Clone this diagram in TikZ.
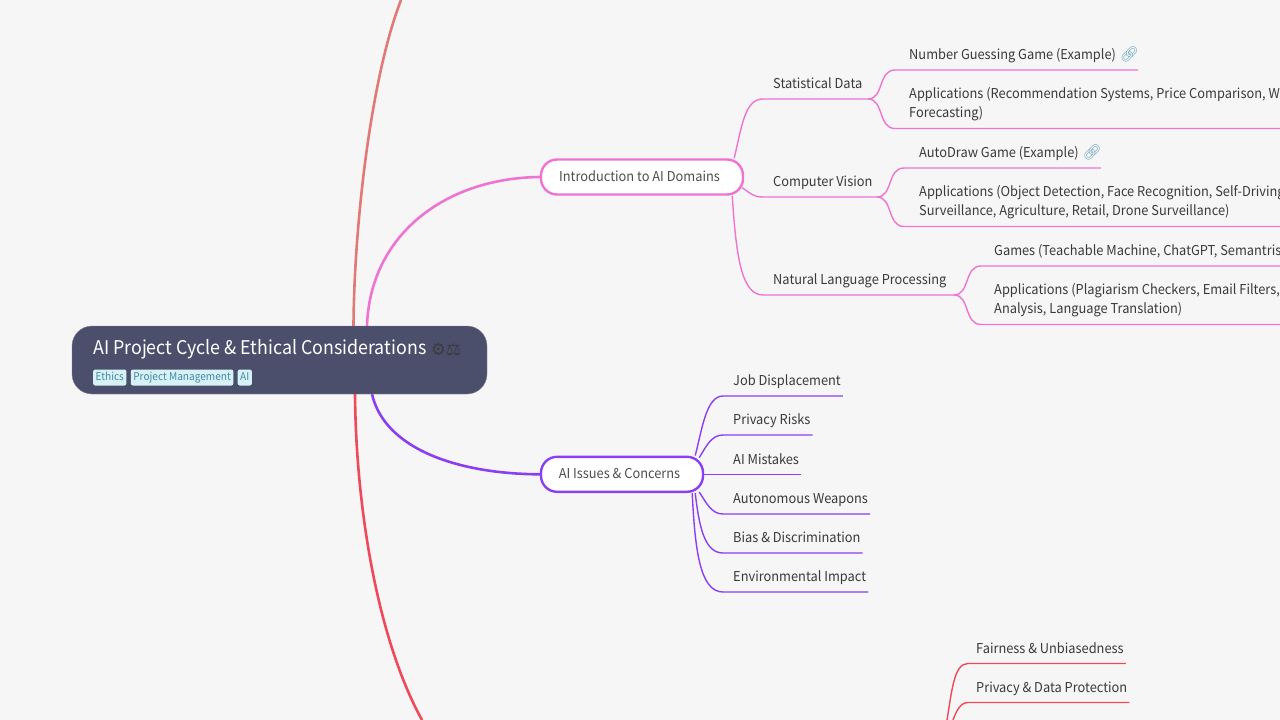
\documentclass[tikz,border=0pt]{standalone}
\usepackage{fontspec}
\setmainfont[FakeStretch=0.943]{Noto Sans CJK SC}
\newfontfamily\iconfont{DejaVu Sans}
\newfontfamily\emojifont{Noto Emoji}
\usetikzlibrary{positioning}
\definecolor{paper}{HTML}{F6F6F6}
\definecolor{rootfill}{HTML}{4C4F6B}
\definecolor{tagfill}{HTML}{D6F1F8}
\definecolor{tagtext}{HTML}{47899E}
\definecolor{inktext}{HTML}{3A3A3A}
\definecolor{pinkline}{HTML}{EE74D3}
\definecolor{violetline}{HTML}{8A3FF0}
\definecolor{redline}{HTML}{EF4A5B}
\definecolor{salmonline}{HTML}{E07A78}
\definecolor{linkblue}{HTML}{6FA8C4}
\tikzstyle{every node}=[font=\fontsize{13.6}{18.5}\selectfont, text=inktext]
\tikzstyle{rootbox}=[draw=rootfill!70!white, fill=rootfill, rounded corners=20pt, minimum width=415pt, minimum height=68pt, inner sep=0pt]
\tikzstyle{tag}=[fill=tagfill, rounded corners=2pt, text=tagtext, font=\fontsize{10.7}{13}\selectfont, inner xsep=2.5pt, inner ysep=0pt, text height=9pt, text depth=3pt, minimum height=16pt]
\tikzstyle{topic}=[draw, line width=2.4pt, fill=white, rounded corners=16pt, minimum height=35pt, inner xsep=0pt, inner ysep=0pt, text height=11pt, text depth=2.5pt, text=inktext!90!white, execute at begin node=\hspace*{-5pt}]
\tikzstyle{leaf}=[anchor=south west, inner xsep=0pt, inner ysep=10pt, text depth=0pt, align=left]
\tikzstyle{twoline}=[leaf, inner ysep=11pt]
\tikzstyle{trunk}=[line width=2.6pt]
\tikzstyle{twig}=[line width=1.4pt]
\newcommand{\linkicon}{\hspace{4pt}{\emojifont\textcolor{linkblue}{\fontsize{15}{15}\selectfont 🔗}}}

\begin{document}
\begin{tikzpicture}[x=1pt, y=-1pt]
    \clip (0,0) rectangle (1280,720);
    \fill[paper] (0,0) rectangle (1280,720);
    \coordinate (edge) at (1290,0);
    % trunk ends that run off the page
    \coordinate (upend) at (401,0);
    \coordinate (downend) at (422,720);
    \coordinate (rulehub) at (947,720);
    \coordinate (rulehubb) at (953,720);

    \node[rootbox] (root) at (279.5,360) {};
    \node[anchor=west, inner sep=0pt, text=white, font=\fontsize{18.9}{24}\selectfont] (title) at (93,349.5) {AI Project Cycle \& Ethical Considerations};
    \node[right=4pt of title, inner sep=0pt, text=inktext, font=\iconfont\fontsize{17}{17}\selectfont] (icons) {⚙⚖};
    \node[tag, anchor=west] (ethics) at (93,377.5) {Ethics};
    \node[tag, right=4pt of ethics] (pm) {Project Management};
    \node[tag, right=4pt of pm] (aitag) {AI};

    \node[topic, draw=pinkline, minimum width=202pt] (intro) at (642,177) {Introduction to AI Domains};
    \node[topic, draw=violetline, minimum width=162pt] (issues) at (622,474.3) {AI Issues \& Concerns};

    % intro branch
    \node[leaf] (stat) at (773,99) {Statistical Data};
    \node[leaf] (vision) at (773,197) {Computer Vision};
    \node[leaf] (nlp) at (773,295) {Natural Language Processing};
    \node[leaf] (guess) at (909,70) {Number Guessing Game (Example)\linkicon};
    \node[twoline] (statapps) at (909,128.5) {Applications (Recommendation Systems, Price Comparison, W\\Forecasting)};
    \node[leaf] (autodraw) at (919,168) {AutoDraw Game (Example)\linkicon};
    \node[twoline] (visionapps) at (919,226.5) {Applications (Object Detection, Face Recognition, Self-Driving\\Surveillance, Agriculture, Retail, Drone Surveillance)};
    \node[leaf] (games) at (994,266) {Games (Teachable Machine, ChatGPT, Semantris};
    \node[twoline] (nlpapps) at (994,324.5) {Applications (Plagiarism Checkers, Email Filters,\\Analysis, Language Translation)};

    % issues branch
    \node[leaf] (job) at (733,396) {Job Displacement};
    \node[leaf] (privacy) at (733,435) {Privacy Risks};
    \node[leaf] (mistakes) at (733,474.3) {AI Mistakes};
    \node[leaf] (weapons) at (733,514) {Autonomous Weapons};
    \node[leaf] (bias) at (733,553) {Bias \& Discrimination};
    \node[leaf] (impact) at (733,592) {Environmental Impact};

    % ethics branch, cut by the page
    \node[leaf] (fair) at (976,663.5) {Fairness \& Unbiasedness};
    \node[leaf] (dataprot) at (976,702.5) {Privacy \& Data Protection};

    \draw[trunk, salmonline] ([xshift=74pt]root.north) .. controls +(0.5,-96) and (370,80) .. (upend);
    \draw[trunk, redline] ([xshift=75.5pt]root.south) .. controls +(1,116) and (378,640) .. (downend);
    \draw[trunk, pinkline] ([xshift=87.5pt]root.north) .. controls (370,235) and (445,178) .. (intro.west);
    \draw[trunk, violetline] ([xshift=92.5pt]root.south) .. controls (385,450) and (460,474) .. (issues.west);

    \draw[twig, pinkline] ([xshift=-10pt]intro.north east) .. controls (742,125) and (745,99) .. (763,99) -- ([xshift=95pt]stat.south west);
    \draw[twig, pinkline] ([xshift=-2pt,yshift=8pt]intro.south east) .. controls (750,193) and (753,197) .. (763,197) -- ([xshift=104pt]vision.south west);
    \draw[twig, pinkline] ([xshift=-12pt]intro.south east) .. controls (736,250) and (740,295) .. (763,295) -- ([xshift=181pt]nlp.south west);

    \draw[twig, pinkline] (stat.south west) ++(95,0) .. controls (884,99) and (878,70) .. (895,70) -- ([xshift=-1pt]guess.south east);
    \draw[twig, pinkline] (stat.south west) ++(95,0) .. controls (884,99) and (878,128.5) .. (895,128.5) -- (statapps.south -| edge);
    \draw[twig, pinkline] (vision.south west) ++(104,0) .. controls (893,197) and (887,168) .. (904,168) -- ([xshift=-1pt]autodraw.south east);
    \draw[twig, pinkline] (vision.south west) ++(104,0) .. controls (893,197) and (887,226.5) .. (904,226.5) -- (visionapps.south -| edge);
    \draw[twig, pinkline] (nlp.south west) ++(181,0) .. controls (970,295) and (964,266) .. (981,266) -- (games.south -| edge);
    \draw[twig, pinkline] (nlp.south west) ++(181,0) .. controls (970,295) and (964,324.5) .. (981,324.5) -- (nlpapps.south -| edge);

    \draw[twig, violetline] ([xshift=-9pt]issues.north east) .. controls (702,430) and (706,396) .. (723,396) -- ([xshift=2pt]job.south east);
    \draw[twig, violetline] ([xshift=-5pt,yshift=-2pt]issues.north east) .. controls (706,447) and (711,435) .. (723,435) -- ([xshift=2pt]privacy.south east);
    \draw[twig, violetline] (issues.east) -- ([xshift=2pt]mistakes.south east);
    \draw[twig, violetline] ([xshift=-5pt,yshift=1pt]issues.south east) .. controls (706,502) and (711,514) .. (723,514) -- ([xshift=2pt]weapons.south east);
    \draw[twig, violetline] ([xshift=-9pt]issues.south east) .. controls (699,525) and (704,553) .. (723,553) -- ([xshift=2pt]bias.south east);
    \draw[twig, violetline] ([xshift=-12pt]issues.south east) .. controls (695,550) and (700,592) .. (723,592) -- ([xshift=2pt]impact.south east);

    \draw[twig, redline] (rulehub) .. controls (952,690) and (954,663.5) .. (968,663.5) -- ([xshift=2pt]fair.south east);
    \draw[twig, redline] (rulehubb) .. controls (956,712) and (960,702.5) .. (968,702.5) -- ([xshift=2pt]dataprot.south east);
\end{tikzpicture}
\end{document}
